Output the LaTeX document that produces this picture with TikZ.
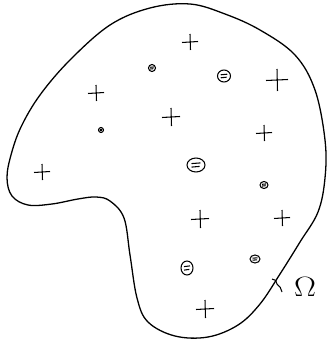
\documentclass[tikz,border=0pt]{standalone}
\usetikzlibrary{arrows.meta}

\tikzset{
  region/.style={line width=1.1pt},
  cross/.style={line width=0.9pt},
  blob/.style={line width=0.9pt},
}

\begin{document}
\begin{tikzpicture}[x=0.03cm,y=-0.03cm]
  \useasboundingbox (0,0) rectangle (326,341);
  % the domain
  \draw[region] plot[smooth cycle,tension=0.6] coordinates {
    (190,4) (225,14) (260,30) (295,55) (315,90) (325,140) (325,178)
    (318,212) (300,242) (280,274) (260,304) (238,325) (208,337)
    (175,336) (148,322) (137,298) (130,255) (124,218) (110,201)
    (96,197) (78,199) (52,204) (28,205) (12,196) (7,178) (11,155)
    (21,127) (40,95) (70,60) (110,25) (150,8)};
  % crosses
  \foreach \x/\y/\s in {190/42/8, 277/80/11, 96/93/8, 171/117/9,
      264/133/8, 42/172/8, 200/219/9, 282/218/8, 205/309/9}
    \draw[cross] (\x-\s,\y+0.5) -- (\x+\s,\y-0.5) (\x,\y-\s) -- (\x+0.5,\y+\s);
  % blobs
  \foreach \x/\y/\a/\b in {152/68/3.5/3.5, 101/130/2.5/2.5, 224/76/6.5/6,
      196/165/9/7, 264/185/4/3.5, 255/259/5/4, 187/268/6/7}{
    \draw[blob] (\x,\y) ellipse ({\a} and {\b});
    \draw[blob] (\x-0.5*\a,\y-0.2*\b) -- (\x+0.5*\a,\y-0.3*\b)
                (\x-0.5*\a,\y+0.3*\b) -- (\x+0.4*\a,\y+0.2*\b);
  }
  % label of the boundary
  \coordinate (tick) at (277,284);
  \draw[cross] (272,279) to[bend left=50] (tick) to[bend left=20] (282,292);
  \node[xscale=1.35,yscale=1.15] (om) at (305,287) {\huge $\Omega$};
\end{tikzpicture}
\end{document}
